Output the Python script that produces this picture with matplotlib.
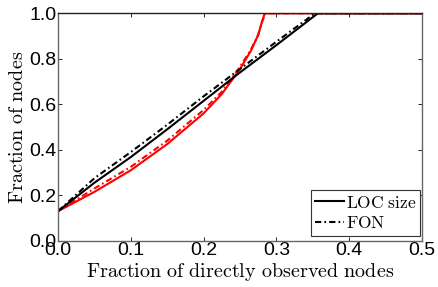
import numpy as np
from matplotlib import pyplot as plt

plt.rcParams['mathtext.fontset'] = 'cm'

# black: LOC size (solid) and FON (dash-dot)
loc_x = [0.0, 0.05, 0.1, 0.15, 0.2, 0.25, 0.3, 0.357, 0.5]
loc_y = [0.13, 0.255, 0.368, 0.49, 0.615, 0.74, 0.86, 1.0, 1.0]
fon_x = [0.0, 0.05, 0.1, 0.15, 0.2, 0.25, 0.3, 0.353, 0.5]
fon_y = [0.13, 0.275, 0.39, 0.51, 0.635, 0.755, 0.875, 1.0, 1.0]

# red: same quantities, second setting
red_loc_x = [0.0, 0.05, 0.1, 0.15, 0.2, 0.225, 0.25, 0.265, 0.275, 0.28, 0.284, 0.5]
red_loc_y = [0.13, 0.215, 0.31, 0.425, 0.56, 0.645, 0.755, 0.835, 0.905, 0.96, 1.0, 1.0]
red_fon_x = [0.0, 0.05, 0.1, 0.15, 0.2, 0.225, 0.25, 0.265, 0.275, 0.28, 0.285, 0.5]
red_fon_y = [0.13, 0.23, 0.325, 0.44, 0.575, 0.655, 0.765, 0.84, 0.905, 0.96, 1.0, 1.0]

xticks = [0.0, 0.1, 0.2, 0.3, 0.4, 0.5]
yticks = [0.0, 0.2, 0.4, 0.6, 0.8, 1.0]

dashdot = (0, (3, 1.5, 0.8, 1.5))


def main():
    fig = plt.figure(figsize=(4.38, 2.87), dpi=100)
    ax = fig.add_axes([0.1324, 0.161, 0.831, 0.7927])

    ax.plot(red_fon_x, red_fon_y, color='r', lw=1.5, ls=dashdot)
    ax.plot(red_loc_x, red_loc_y, color='r', lw=1.5)
    ax.plot(fon_x, fon_y, color='k', lw=1.5, ls=dashdot, label=r'$\mathrm{FON}$')
    ax.plot(loc_x, loc_y, color='k', lw=1.5, label=r'$\mathrm{LOC\ size}$')

    ax.set_xlim(0, 0.5)
    ax.set_ylim(0, 1.0)
    ax.set_xticks(xticks)
    ax.set_yticks(yticks)
    ax.set_xticklabels(['%.1f' % t for t in xticks], fontfamily='Liberation Sans', fontsize=14)
    ax.set_yticklabels(['%.1f' % t for t in yticks], fontfamily='Liberation Sans', fontsize=14)
    ax.tick_params(direction='in', top=True, right=True, length=3, width=0.6, pad=1)
    for s in ax.spines.values():
        s.set_color('#666666')
        s.set_linewidth(1.0)
    ax.spines['top'].set_color('#222222')

    ax.set_xlabel(r'$\mathrm{Fraction\ of\ directly\ observed\ nodes}$', fontsize=14.5, labelpad=1)
    ax.set_ylabel(r'$\mathrm{Fraction\ of\ nodes}$', fontsize=14.5, labelpad=2)

    h, l = ax.get_legend_handles_labels()
    leg = ax.legend(h[::-1], l[::-1], loc='lower right', fontsize=12.5, fancybox=False,
                    handlelength=1.7, handletextpad=0.1, borderaxespad=0.1,
                    borderpad=0.2, labelspacing=0.15, framealpha=1,
                    bbox_to_anchor=(1.0, 0.015))
    leg.get_frame().set_edgecolor('#333333')
    leg.get_frame().set_linewidth(0.8)

    fig.savefig('out.png', dpi=100)


if __name__ == '__main__':
    main()
